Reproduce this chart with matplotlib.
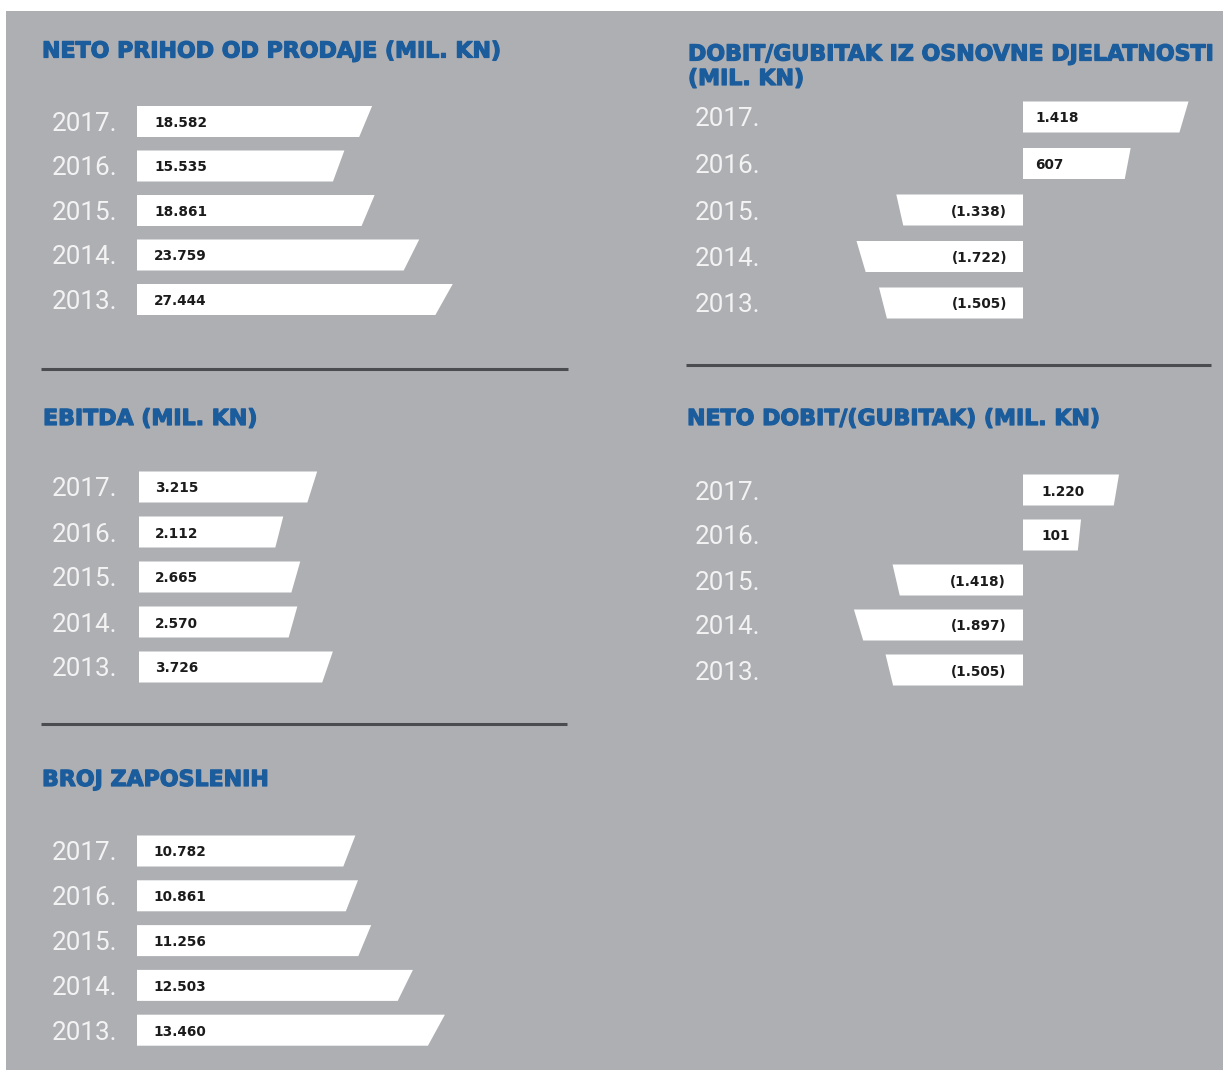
import numpy as np
import matplotlib

matplotlib.use("Agg")
import matplotlib.pyplot as plt
from matplotlib import patheffects, transforms
from matplotlib.lines import Line2D
from matplotlib.patches import Polygon, Rectangle


W, H = 1223, 1070

YEARS = ["2017.", "2016.", "2015.", "2014.", "2013."]
NETO_PRIHOD = [18582, 15535, 18861, 23759, 27444]
EBITDA = [3215, 2112, 2665, 2570, 3726]
BROJ_ZAPOSLENIH = [10782, 10861, 11256, 12503, 13460]
DOBIT_OSNOVNA = [1418, 607, -1338, -1722, -1505]
NETO_DOBIT = [1220, 101, -1418, -1897, -1505]

GRAY = "#aeafb3"
BLUE = "#1b5c9c"
RULE = "#4b4c50"
YEAR_COLOR = "#f3f3f4"
LABEL_COLOR = "#1b1b1b"

BAR_H = 31          # px
SLANT = 0.055       # share of bar length cut off at the bottom edge

# layout in pixels; scale = (pad_pos, k_pos, pad_neg, k_neg) -> bar length in px
PANELS = [
    dict(title=["NETO PRIHOD OD PRODAJE (MIL. KN)"], tx=42, tbase=[57.5],
         values=NETO_PRIHOD, origin=137, span=(137, 600), row0=121.5, step=44.5,
         scale=(66, 0.0091, 66, 0.0091), year_x=117, lab_pos=17, lab_neg=-16),
    dict(title=["EBITDA (MIL. KN)"], tx=43, tbase=[425],
         values=EBITDA, origin=139, span=(139, 600), row0=487, step=45,
         scale=(79.3, 0.03075, 79.3, 0.03075), year_x=117, lab_pos=16, lab_neg=-16),
    dict(title=["BROJ ZAPOSLENIH"], tx=42, tbase=[786],
         values=BROJ_ZAPOSLENIH, origin=136.5, span=(136.5, 600), row0=851, step=44.8,
         scale=(-141.7, 0.03344, -141.7, 0.03344), year_x=117, lab_pos=17, lab_neg=-16),
    dict(title=["DOBIT/GUBITAK IZ OSNOVNE DJELATNOSTI", "(MIL. KN)"], tx=688, tbase=[60.5, 85],
         values=DOBIT_OSNOVNA, origin=1023, span=(820, 1223), row0=117, step=46.5,
         scale=(64.4, 0.0713, -11.9, 0.1036), year_x=760, lab_pos=12, lab_neg=-16),
    dict(title=["NETO DOBIT/(GUBITAK) (MIL. KN)"], tx=687, tbase=[425],
         values=NETO_DOBIT, origin=1023, span=(820, 1223), row0=490, step=45,
         scale=(54.6, 0.03396, 16, 0.0807), year_x=760, lab_pos=18, lab_neg=-17),
]

RULES = [(41, 567.5, 368.5), (686, 1210.5, 365), (41, 567, 724)]


def fmt(v):
    s = f"{abs(v):,}".replace(",", ".")
    return f"({s})" if v < 0 else s


def make_scale(pad_p, k_p, pad_n, k_n):
    def fwd(v):
        v = np.asarray(v, dtype=float)
        return np.where(v > 0, pad_p + k_p * v, np.where(v < 0, -(pad_n - k_n * v), 0.0))

    def inv(u):
        u = np.asarray(u, dtype=float)
        return np.where(u > 0, (u - pad_p) / k_p, np.where(u < 0, (u + pad_n) / k_n, 0.0))

    return fwd, inv


def draw_panel(fig, p):
    n = len(YEARS)
    o = p["origin"]
    x0, x1 = p["span"]
    top = p["row0"] - p["step"] / 2
    bottom = p["row0"] + p["step"] * (n - 0.5)
    ax = fig.add_axes([x0 / W, 1 - bottom / H, (x1 - x0) / W, (bottom - top) / H])
    fwd, inv = make_scale(*p["scale"])
    ax.set_xscale("function", functions=(fwd, inv))
    ax.set_xlim(float(inv(x0 - o)), float(inv(x1 - o)))
    ax.set_ylim(n - 0.5, -0.5)
    ax.set_axis_off()

    half = BAR_H / 2 / p["step"]
    affine = ax.transLimits + ax.transAxes
    fig_y = transforms.blended_transform_factory(fig.transFigure, ax.transData)

    for i, (year, v) in enumerate(zip(YEARS, p["values"])):
        end = ax.transScale.transform([[v, i]])[0, 0]
        verts = [(0, i - half), (end, i - half), (end * (1 - SLANT), i + half), (0, i + half)]
        ax.add_patch(Polygon(verts, closed=True, transform=affine,
                             facecolor="white", edgecolor="none"))
        ax.text(p["year_x"] / W, i, year, transform=fig_y, ha="right", va="center_baseline",
                fontsize=18.7, family="Roboto", color=YEAR_COLOR)
        if v >= 0:
            ax.text((o + p["lab_pos"]) / W, i, fmt(v), transform=fig_y, ha="left",
                    va="center_baseline", fontsize=9.8, fontweight="bold", color=LABEL_COLOR)
        else:
            ax.text((o + p["lab_neg"]) / W, i, fmt(v), transform=fig_y, ha="right",
                    va="center_baseline", fontsize=9.8, fontweight="bold", color=LABEL_COLOR)

    for line, base in zip(p["title"], p["tbase"]):
        fig.text(p["tx"] / W, 1 - base / H, line, ha="left", va="baseline",
                 fontsize=15.9, fontweight="bold", color=BLUE,
                 path_effects=[patheffects.withStroke(linewidth=0.9, foreground=BLUE)])


def main():
    plt.rcParams["font.family"] = ["DejaVu Sans"]
    fig = plt.figure(figsize=(W / 100, H / 100), dpi=100, facecolor="white")
    fig.add_artist(Rectangle((6 / W, 0), 1 - 6 / W, 1 - 11 / H, transform=fig.transFigure,
                             facecolor=GRAY, edgecolor="none", zorder=-5))
    for xa, xb, y in RULES:
        fig.add_artist(Line2D([xa / W, xb / W], [1 - y / H, 1 - y / H], transform=fig.transFigure,
                              color=RULE, linewidth=2.2, solid_capstyle="butt"))
    for p in PANELS:
        draw_panel(fig, p)
    fig.savefig("out.png", dpi=100, facecolor="white")


if __name__ == "__main__":
    main()
